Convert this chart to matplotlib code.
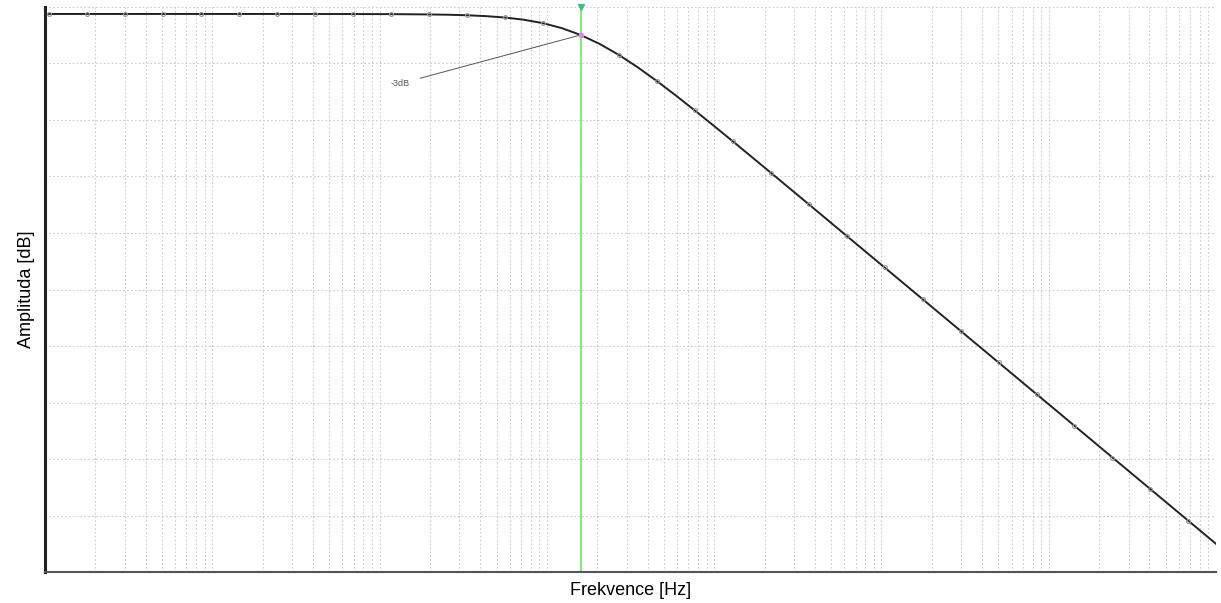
import matplotlib.pyplot as plt

# Frekvencni charakteristika RC dolni propusti
# body se znackami
frekvence = [1.053, 1.776, 2.996, 5.053, 8.527, 14.38, 24.27, 40.94, 69.08, 116.5,
             196.6, 331.6, 559.4, 943.5, 1591.5, 2685, 4529, 7641, 12890, 21740,
             36680, 61870, 104400, 176100, 297000, 501100, 845300, 1426000, 2406000,
             4058000, 6846000]
amplituda = [0.0, 0.0, 0.0, -0.0001, -0.0001, -0.0004, -0.001, -0.0029, -0.0082, -0.0232,
             -0.0657, -0.1846, -0.505, -1.308, -3.01, -5.85, -9.59, -13.81, -18.23, -22.73,
             -27.26, -31.80, -36.34, -40.88, -45.42, -49.96, -54.50, -59.04, -63.59,
             -68.13, -72.67]
# dalsi body krivky bez znacek (koleno a konec)
frekvence_mezi = [255.3, 430.7, 726.5, 1225, 2067, 3487, 5883, 9924, 10000000]
amplituda_mezi = [-0.110, -0.307, -0.822, -2.021, -4.293, -7.634, -11.66, -16.01, -75.96]

f_mezni = 1591.5
a_mezni = -3.01

plt.rcParams['font.family'] = ['Liberation Sans', 'DejaVu Sans']

krivka = sorted(zip(frekvence + frekvence_mezi, amplituda + amplituda_mezi))
kf = [p[0] for p in krivka]
ka = [p[1] for p in krivka]

fig = plt.figure(figsize=(12.21, 6.03), dpi=100)
ax = fig.add_axes([0.0369, 0.0514, 0.9590, 0.9370])

ax.plot(kf, ka, color='#222222', lw=1.4, zorder=3)
ax.plot(frekvence, amplituda, ls='none', marker='o', ms=2.8,
        mfc='none', mec='#999999', mew=0.8, zorder=4)

# mezni frekvence
ax.axvline(f_mezni, color='#66ee66', lw=1.2, zorder=2)
ax.plot([f_mezni], [1.0], marker='v', ms=4, color='#44bb88', clip_on=False, zorder=5)
ax.plot([f_mezni], [a_mezni], marker='o', ms=3, color='#dd88dd', zorder=5)
ax.annotate('-3dB', xy=(f_mezni, a_mezni), xytext=(132, -10.0), fontsize=6.5,
            color='#555555', ha='center', va='center',
            arrowprops=dict(arrowstyle='-', color='#555555', lw=0.7, shrinkA=6, shrinkB=0))

ax.set_xscale('log')
ax.set_xlim(1, 1e7)
ax.set_ylim(-80, 1)
ax.set_yticks([1 - 8.1 * i for i in range(11)])
ax.grid(True, which='both', axis='x', color='#cccccc', ls=(0, (1.5, 2)), lw=0.8)
ax.grid(True, which='major', axis='y', color='#cccccc', ls=(0, (1.5, 2)), lw=0.8)
ax.tick_params(which='both', length=0, labelbottom=False, labelleft=False)

for s in ['top', 'right']:
    ax.spines[s].set_visible(False)
ax.spines['left'].set_linewidth(2.2)
ax.spines['left'].set_color('#222222')
ax.spines['bottom'].set_linewidth(1.5)
ax.spines['bottom'].set_color('#555555')

ax.set_xlabel('Frekvence [Hz]', fontsize=13, labelpad=7)
ax.set_ylabel('Amplituda [dB]', fontsize=13, labelpad=7)

fig.savefig('out.png', dpi=100)
